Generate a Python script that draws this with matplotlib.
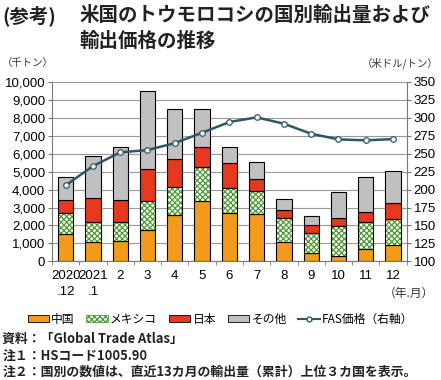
import matplotlib
matplotlib.use("Agg")
import matplotlib.pyplot as plt
from matplotlib.patches import Patch
from matplotlib.lines import Line2D
import numpy as np

plt.rcParams["font.family"] = ["Noto Sans CJK JP", "DejaVu Sans"]
plt.rcParams["hatch.linewidth"] = 0.9

months = ["2020\n.12", "2021\n.1", "2", "3", "4", "5", "6", "7", "8", "9", "10", "11", "12"]
# cumulative tops (thousand tonnes)
china = [1520, 1060, 1110, 1730, 2560, 3380, 2710, 2650, 1060, 480, 310, 670, 910]
mexico_top = [2710, 2170, 2170, 3380, 4160, 5230, 4060, 3930, 2390, 1560, 1990, 2210, 2370]
japan_top = [3410, 3510, 3410, 5120, 5680, 6350, 5490, 4560, 2860, 2020, 2390, 2760, 3230]
total = [4680, 5860, 6350, 9500, 8500, 8500, 6350, 5510, 3450, 2540, 3840, 4680, 5030]
fas_price = [205.8, 232.6, 251.7, 254.9, 264.6, 279.0, 293.9, 300.4, 291.6, 277.6, 269.8, 268.4, 270.2]

mexico = [m - c for m, c in zip(mexico_top, china)]
japan = [j - m for j, m in zip(japan_top, mexico_top)]
other = [t - j for t, j in zip(total, japan_top)]

c_china = "#F39A1C"
c_mex = "#4E9A34"
c_japan = "#E5391F"
c_other = "#C0C0C0"
c_line = "#2F5766"
num_font = ["Liberation Sans", "Noto Sans CJK JP"]

fig = plt.figure(figsize=(4.41, 3.80), dpi=100)
ax = fig.add_axes([0.118, 0.312, 0.804, 0.473])
x = np.arange(len(months))
w = 0.56

ax.set_axisbelow(True)
ax.yaxis.grid(True, color="#9a9a9a", linewidth=0.8)
ax.bar(x, china, w, color=c_china, edgecolor="black", linewidth=0.8, zorder=2)
ax.bar(x, mexico, w, bottom=china, color="white", edgecolor=c_mex, hatch="xxxxxx", linewidth=0, zorder=2)
ax.bar(x, mexico, w, bottom=china, fill=False, edgecolor="black", linewidth=0.8, zorder=3)
ax.bar(x, japan, w, bottom=mexico_top, color=c_japan, edgecolor="black", linewidth=0.8, zorder=2)
ax.bar(x, other, w, bottom=japan_top, color=c_other, edgecolor="black", linewidth=0.8, zorder=2)

ax.set_xlim(-0.5, len(months) - 0.5)
ax.set_ylim(0, 10000)
ax.set_yticks(range(0, 10001, 1000))
ax.set_yticklabels([f"{v:,}" for v in range(0, 10001, 1000)], fontsize=9.5, family=num_font)
ax.set_xticks(x)
ax.set_xticklabels(months, fontsize=9.5, linespacing=1.5, family=num_font)
ax.set_xticks(np.arange(-0.5, len(months), 1), minor=True)
ax.tick_params(axis="x", which="major", length=0, pad=6)
ax.tick_params(axis="x", which="minor", length=3, color="#777777")
ax.tick_params(axis="y", length=3, color="#777777", pad=2)
for s in ["top", "right"]:
    ax.spines[s].set_visible(False)
for s in ["left", "bottom"]:
    ax.spines[s].set_color("#777777")

ax2 = ax.twinx()
ax2.plot(x, fas_price, color=c_line, linewidth=1.8, marker="o", markersize=4,
         markerfacecolor="white", markeredgecolor=c_line, markeredgewidth=0.9, zorder=5)
ax2.set_ylim(100, 350)
ax2.set_yticks(range(100, 351, 25))
ax2.set_yticklabels([str(v) for v in range(100, 351, 25)], fontsize=9.5, family=num_font)
ax2.tick_params(axis="y", length=3, color="#777777", pad=2)
for s in ["top", "left", "bottom"]:
    ax2.spines[s].set_visible(False)
ax2.spines["right"].set_color("#777777")

fig.text(0.005, 0.96, "(参考)", fontsize=14, fontweight="bold", color="#222222", va="center")
fig.text(0.181, 0.96, "米国のトウモロコシの国別輸出量および", fontsize=14, fontweight="bold",
         color="#222222", va="center")
fig.text(0.181, 0.89, "輸出価格の推移", fontsize=14, fontweight="bold", color="#222222", va="center")
fig.text(0.005, 0.833, "（千トン）", fontsize=7.5, va="center", color="#333333")
fig.text(0.995, 0.833, "（米ドル/トン）", fontsize=7.5, va="center", ha="right", color="#333333")
fig.text(0.985, 0.228, "（年.月）", fontsize=8.5, va="center", ha="right", color="#333333")

handles = [
    Patch(facecolor=c_china, edgecolor="black", linewidth=0.6),
    Patch(facecolor="white", edgecolor=c_mex, hatch="xxxxxx", linewidth=0.6),
    Patch(facecolor=c_japan, edgecolor="black", linewidth=0.6),
    Patch(facecolor=c_other, edgecolor="black", linewidth=0.6),
    Line2D([], [], color=c_line, linewidth=1.5, marker="o", markersize=3.5,
           markerfacecolor="white", markeredgecolor=c_line),
]
labels = ["中国", "メキシコ", "日本", "その他", "FAS価格（右軸）"]
fig.legend(handles, labels, loc="center", bbox_to_anchor=(0.5, 0.16), ncol=5, frameon=False,
           fontsize=8.5, handlelength=1.8, handleheight=0.6, handletextpad=0.2, columnspacing=1.0)

notes = ["資料：「Global Trade Atlas」", "注１：HSコード1005.90",
         "注２：国別の数値は、直近13カ月の輸出量（累計）上位３カ国を表示。"]
for i, t in enumerate(notes):
    fig.text(0.005, 0.108 - i * 0.043, t, fontsize=9.3, fontweight="bold", color="#222222", va="center")

fig.savefig("out.png", dpi=100)
plt.close(fig)
